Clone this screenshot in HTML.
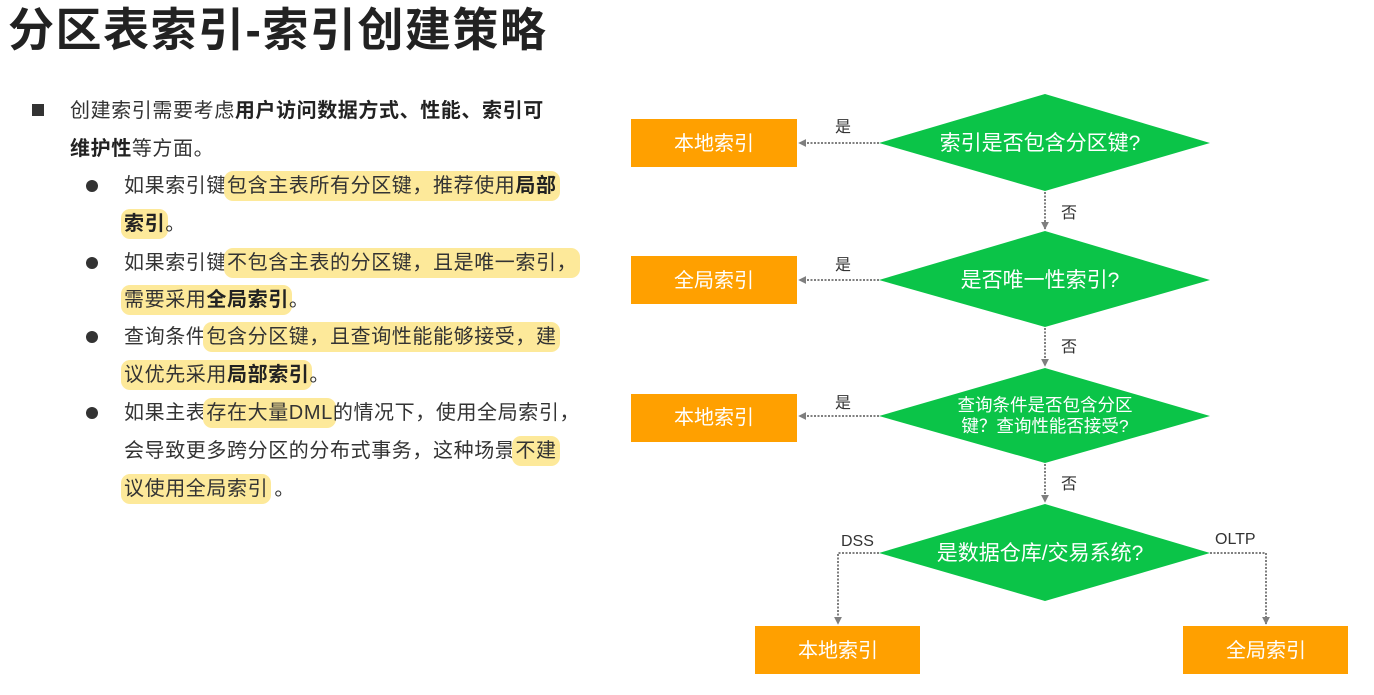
<!DOCTYPE html>
<html><head><meta charset="utf-8"><style>
body{margin:0;width:1374px;height:695px;background:#fff;overflow:hidden;position:relative;font-family:"Liberation Sans","Noto Sans CJK SC",sans-serif;color:#333;}
h1{position:absolute;left:8px;top:-6px;margin:0;font-size:46px;font-weight:bold;color:#222;letter-spacing:1.5px;}
.l{position:absolute;font-size:20px;letter-spacing:0.6px;white-space:nowrap;line-height:28px;}
.h{background:#fde99a;border-radius:9px;padding:4px 3px;margin:0 -3px;}
b{color:#222;}
.sq{position:absolute;left:32px;top:104px;width:12px;height:12px;background:#333;}
.dot{position:absolute;left:86px;width:12px;height:12px;border-radius:50%;background:#333;}
</style></head><body>
<h1>分区表索引-索引创建策略</h1>
<div class="sq"></div>
<div class="l" style="left:70px;top:97px">创建索引需要考虑<b>用户访问数据方式、性能、索引可</b></div>
<div class="l" style="left:70px;top:135px"><b>维护性</b>等方面。</div>
<div class="dot" style="top:180px"></div>
<div class="l" style="left:124px;top:172px">如果索引键<span class="h">包含主表所有分区键，推荐使用<b>局部</b></span></div>
<div class="l" style="left:124px;top:210px"><span class="h"><b>索引</b></span>。</div>
<div class="dot" style="top:257px"></div>
<div class="l" style="left:124px;top:249px">如果索引键<span class="h">不包含主表的分区键，且是唯一索引，</span></div>
<div class="l" style="left:124px;top:286px"><span class="h">需要采用<b>全局索引</b></span>。</div>
<div class="dot" style="top:331px"></div>
<div class="l" style="left:124px;top:323px">查询条件<span class="h">包含分区键，且查询性能能够接受，建</span></div>
<div class="l" style="left:124px;top:361px"><span class="h">议优先采用<b>局部索引</b></span>。</div>
<div class="dot" style="top:407px"></div>
<div class="l" style="left:124px;top:399px">如果主表<span class="h">存在大量DML</span>的情况下，使用全局索引，</div>
<div class="l" style="left:124px;top:437px">会导致更多跨分区的分布式事务，这种场景<span class="h">不建</span></div>
<div class="l" style="left:124px;top:475px"><span class="h">议使用全局索引</span> 。</div>
<svg width="1374" height="695" style="position:absolute;left:0;top:0" font-family="Liberation Sans,Noto Sans CJK SC,sans-serif">
<defs><marker id="a" viewBox="0 0 10 10" refX="9" refY="5" markerWidth="4" markerHeight="4" orient="auto"><path d="M0,0L10,5L0,10z" fill="#7f7f7f"/></marker></defs>
<g fill="#0bc448">
<polygon points="1045,94 1210,143 1045,191 879,143"/>
<polygon points="1045,231 1210,280 1045,327 879,280"/>
<polygon points="1045,368 1210,416 1045,463 879,416"/>
<polygon points="1045,504 1210,553 1045,601 879,553"/>
</g>
<g fill="#ffa000">
<rect x="631" y="119" width="166" height="48"/>
<rect x="631" y="256" width="166" height="48"/>
<rect x="631" y="394" width="166" height="48"/>
<rect x="755" y="626" width="165" height="48"/>
<rect x="1183" y="626" width="165" height="48"/>
</g>
<g stroke="#7f7f7f" stroke-width="2" stroke-dasharray="2,1.5" fill="none" marker-end="url(#a)">
<path d="M879 143H799"/><path d="M879 280H799"/><path d="M879 416H799"/>
<path d="M1045 192V229"/><path d="M1045 328V366"/><path d="M1045 464V502"/>
<path d="M879 553H838V624"/><path d="M1210 553H1266V624"/>
</g>
<g fill="#fff" font-size="20" text-anchor="middle">
<text x="714" y="150">本地索引</text><text x="714" y="287">全局索引</text><text x="714" y="424">本地索引</text>
<text x="838" y="657">本地索引</text><text x="1266" y="657">全局索引</text>
<text x="1040" y="150" font-size="21">索引是否包含分区键?</text>
<text x="1040" y="287" font-size="21">是否唯一性索引?</text>
<text x="1045" y="411" font-size="17.5">查询条件是否包含分区</text>
<text x="1045" y="432" font-size="17.5">键？查询性能否接受?</text>
<text x="1040" y="560" font-size="21">是数据仓库/交易系统?</text>
</g>
<g fill="#333" font-size="16">
<text x="835" y="132">是</text><text x="835" y="270">是</text><text x="835" y="408">是</text>
<text x="1061" y="218">否</text><text x="1061" y="352">否</text><text x="1061" y="489">否</text>
<text x="841" y="546">DSS</text><text x="1215" y="544">OLTP</text>
</g>
</svg>
</body></html>
